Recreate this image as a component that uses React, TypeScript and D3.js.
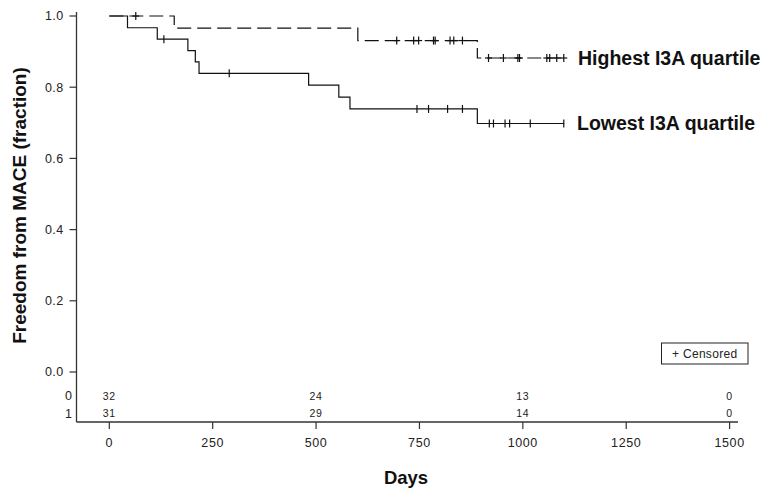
import React from "react";
import * as d3 from "d3";

// ---- data ----
const highTimes = [0, 157, 601, 890, 1100];
const highSurv = [1.0, 0.966, 0.931, 0.882, 0.882];
const highCensored = [64, 695, 736, 748, 784, 788, 824, 833, 854, 917, 953, 988, 992, 1058, 1065, 1082, 1099];

const lowTimes = [0, 44, 116, 190, 208, 217, 482, 555, 582, 890, 1100];
const lowSurv = [1.0, 0.967, 0.935, 0.903, 0.871, 0.839, 0.806, 0.772, 0.739, 0.698, 0.698];
const lowCensored = [132, 290, 744, 772, 818, 854, 919, 929, 957, 968, 1018, 1099];

const xTicks = [0, 250, 500, 750, 1000, 1250, 1500];
const yTicks = [0, 0.2, 0.4, 0.6, 0.8, 1.0];
const riskTimes = [0, 500, 1000, 1500];
const riskRow0 = [32, 24, 13, 0];
const riskRow1 = [31, 29, 14, 0];
const riskLabels = ["0", "1"];

const FONT = "'Liberation Sans', Arial, sans-serif";

function survAt(times: number[], surv: number[], t: number) {
  let s = surv[0];
  for (let i = 0; i < times.length; i++) if (times[i] <= t) s = surv[i];
  return s;
}

export default function App() {
  const W = 773, H = 497;
  const x = d3.scaleLinear().domain([0, 1500]).range([109.3, 729.6]);
  const y = d3.scaleLinear().domain([0, 1]).range([372, 16]);
  const axisY = 422;
  const axisX = 76.5;

  const line = d3
    .line<[number, number]>()
    .x((d) => x(d[0]))
    .y((d) => y(d[1]))
    .curve(d3.curveStepAfter);

  const highPts = highTimes.map((t, i) => [t, highSurv[i]] as [number, number]);
  const lowPts = lowTimes.map((t, i) => [t, lowSurv[i]] as [number, number]);

  const rowYs = [396, 413.5];
  const rows = [riskRow0, riskRow1];

  return (
    <div style={{ position: "absolute", left: 0, top: 0 }}>
      <svg width={W} height={H} style={{ display: "block", background: "#fff" }}>
        {/* axes */}
        <line x1={axisX} x2={axisX} y1={12} y2={axisY} stroke="#333" strokeWidth={1.3} />
        <line x1={axisX} x2={738} y1={axisY} y2={axisY} stroke="#333" strokeWidth={1.3} />
        {yTicks.map((v) => (
          <g key={v}>
            <line x1={axisX - 7} x2={axisX} y1={y(v)} y2={y(v)} stroke="#333" strokeWidth={1.2} />
            <text
              x={axisX - 13}
              y={y(v)}
              dy="0.35em"
              textAnchor="end"
              fontFamily={FONT}
              fontSize={12.5}
              letterSpacing={0.4}
              fill="#222"
            >
              {v.toFixed(1)}
            </text>
          </g>
        ))}
        {xTicks.map((v) => (
          <g key={v}>
            <line x1={x(v)} x2={x(v)} y1={axisY} y2={axisY + 7} stroke="#333" strokeWidth={1.2} />
            <text
              x={x(v)}
              y={443}
              dy="0.35em"
              textAnchor="middle"
              fontFamily={FONT}
              fontSize={12.5}
              letterSpacing={0.6}
              fill="#222"
            >
              {v}
            </text>
          </g>
        ))}
        {/* axis titles */}
        <text x={406} y={484} textAnchor="middle" fontFamily={FONT} fontWeight="bold" fontSize={18.5} fill="#111">
          Days
        </text>
        <text
          transform={`translate(25.5,${205.5}) rotate(-90)`}
          textAnchor="middle"
          fontFamily={FONT}
          fontWeight="bold"
          fontSize={19}
          fill="#111"
        >
          Freedom from MACE (fraction)
        </text>

        {/* risk table */}
        {riskLabels.map((l, i) => (
          <text key={l} x={72} y={rowYs[i]} dy="0.35em" textAnchor="end" fontFamily={FONT} fontSize={12.5} fill="#222">
            {l}
          </text>
        ))}
        {rows.map((r, i) =>
          r.map((n, j) => (
            <text
              key={`${i}-${j}`}
              x={x(riskTimes[j])}
              y={rowYs[i]}
              dy="0.35em"
              textAnchor="middle"
              fontFamily={FONT}
              fontSize={10.5}
              letterSpacing={0.8}
              fill="#222"
            >
              {n}
            </text>
          ))
        )}

        {/* curves */}
        <path d={line(lowPts) || ""} fill="none" stroke="#111" strokeWidth={1.2} />
        <path d={line(highPts) || ""} fill="none" stroke="#111" strokeWidth={1.2} strokeDasharray="14,6" />
        {lowCensored.map((t, i) => (
          <line
            key={`lc${i}`}
            x1={x(t)}
            x2={x(t)}
            y1={y(survAt(lowTimes, lowSurv, t)) - 4}
            y2={y(survAt(lowTimes, lowSurv, t)) + 4}
            stroke="#111"
            strokeWidth={1.2}
          />
        ))}
        {highCensored.map((t, i) => (
          <g key={`hc${i}`}>
            <line
              x1={x(t)}
              x2={x(t)}
              y1={y(survAt(highTimes, highSurv, t)) - 4}
              y2={y(survAt(highTimes, highSurv, t)) + 4}
              stroke="#111"
              strokeWidth={1.2}
            />
            <line
              x1={x(t) - 3.5}
              x2={x(t) + 3.5}
              y1={y(survAt(highTimes, highSurv, t))}
              y2={y(survAt(highTimes, highSurv, t))}
              stroke="#111"
              strokeWidth={1.2}
            />
          </g>
        ))}

        {/* curve labels */}
        <text x={578} y={65} fontFamily={FONT} fontWeight="bold" fontSize={19.5} fill="#111">
          Highest I3A quartile
        </text>
        <text x={577} y={129.5} fontFamily={FONT} fontWeight="bold" fontSize={19.5} fill="#111">
          Lowest I3A quartile
        </text>

        {/* censored legend */}
        <rect x={661.5} y={343} width={86.5} height={21} fill="#fff" stroke="#222" strokeWidth={1} />
        <text x={704.7} y={353.8} dy="0.35em" textAnchor="middle" fontFamily={FONT} fontSize={12} letterSpacing={0.3} fill="#222">
          + Censored
        </text>
      </svg>
    </div>
  );
}
